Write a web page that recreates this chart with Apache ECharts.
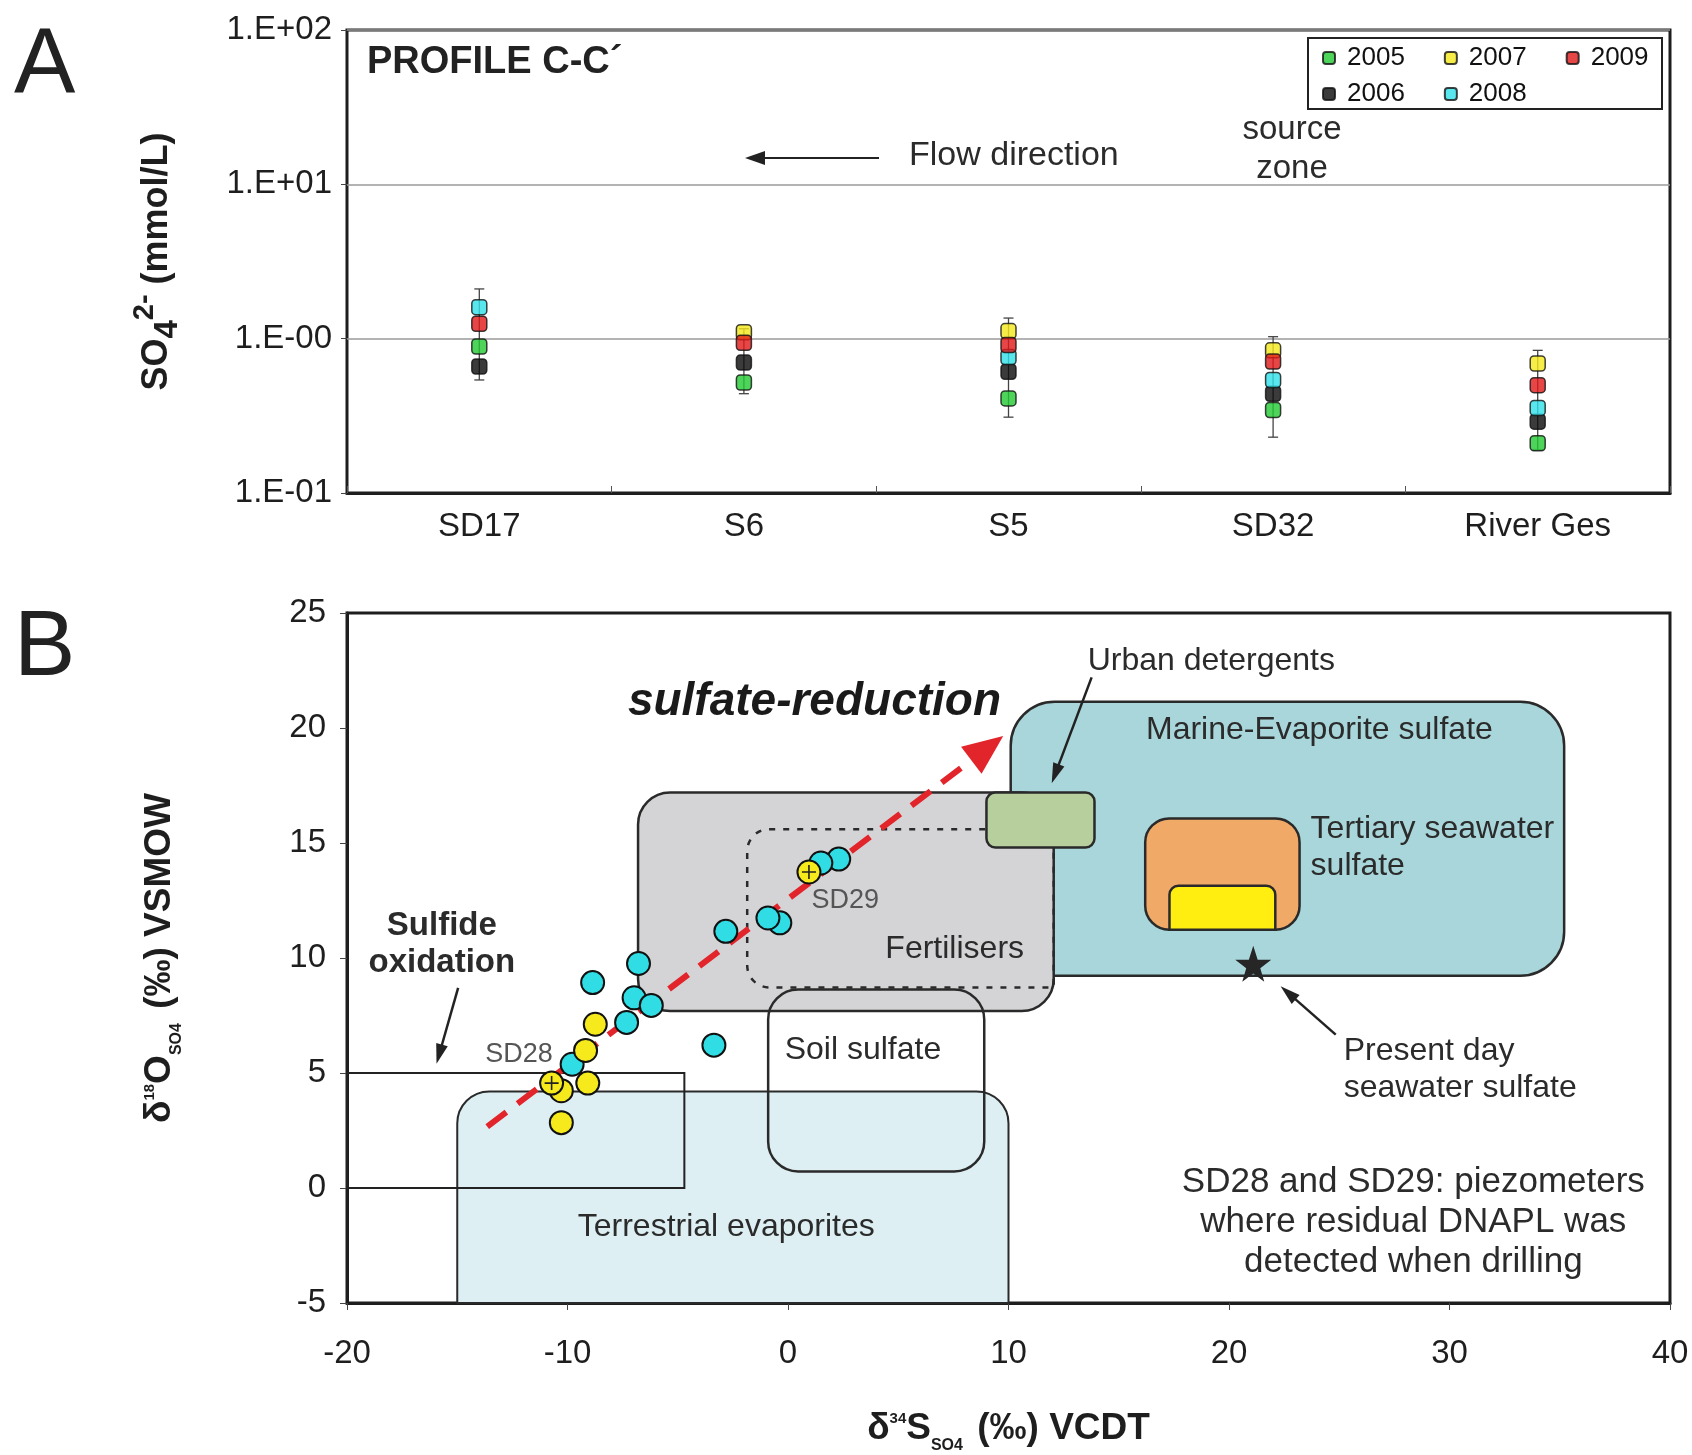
<!DOCTYPE html>
<html>
<head>
<meta charset="utf-8">
<script src="https://cdn.jsdelivr.net/npm/echarts@6/dist/echarts.min.js"></script>
<style>
html,body{margin:0;padding:0;background:#fff}
#chart{width:1692px;height:1455px}
</style>
</head>
<body>
<div id="chart"></div>
<script>
// ---------- Panel A: SO4 concentration along profile C-C' ----------
const stations = ['SD17', 'S6', 'S5', 'SD32', 'River Ges'];
const so4_2005 = [0.89, 0.52, 0.41, 0.345, 0.21];
const so4_2006 = [0.66, 0.70, 0.61, 0.44, 0.29];
const so4_2007 = [null, 1.10, 1.12, 0.84, 0.69];
const so4_2008 = [1.60, null, 0.76, 0.54, 0.356];
const so4_2009 = [1.25, 0.94, 0.91, 0.71, 0.50];
const so4Low  = [0.54, 0.44, 0.31, 0.23, 0.19];
const so4High = [2.10, 1.16, 1.36, 1.03, 0.84];
const logTickLabels = ['1.E-01', '1.E-00', '1.E+01', '1.E+02'];

// ---------- Panel B: d34S vs d18O of dissolved sulfate ----------
const cyanS34 = [2.30, 1.49, -0.37, -0.91, -2.82, -6.78, -8.86, -6.98, -6.20, -7.32, -3.36, -9.79];
const cyanO18 = [14.30, 14.13, 11.53, 11.74, 11.16, 9.76, 8.93, 8.27, 7.94, 7.20, 6.21, 5.38];
const yellowS34 = [-8.74, -9.18, -9.08, -10.28, -10.28];
const yellowO18 = [7.12, 5.98, 4.56, 4.23, 2.84];
const piezoNames = ['SD28', 'SD29'];
const piezoS34 = [-10.72, 0.95];
const piezoO18 = [4.56, 13.74];
const seawaterS34 = [21.1];
const seawaterO18 = [9.75];

// source fields: [min, max] of d34S and d18O
const regionNames = ['Marine-Evaporite sulfate', 'Terrestrial evaporites', 'Fertilisers',
  'Fertilisers (subset)', 'Urban detergents', 'Sulfide oxidation', 'Soil sulfate',
  'Tertiary seawater sulfate', 'Tertiary seawater sulfate (core)'];
const regionS34 = [[10.1, 35.2], [-15, 10], [-6.8, 12.05], [-1.85, 12.05], [9.0, 13.9],
  [-20, -4.7], [-0.9, 8.9], [16.2, 23.2], [17.3, 22.1]];
const regionO18 = [[9.23, 21.14], [-5, 4.2], [7.7, 17.2], [8.72, 15.6], [14.8, 17.2],
  [0, 5], [0.72, 8.63], [11.23, 16.07], [11.23, 13.14]];

const F = '"Liberation Sans", Arial, Helvetica, sans-serif';
const INK = '#1e1e1e';

const regionStyle = {
  'Marine-Evaporite sulfate': {fill: '#a8d6da', stroke: '#2a2a2a', lw: 2.5, r: 44},
  'Terrestrial evaporites': {fill: '#ddeff3', stroke: '#2a2a2a', lw: 2, r: [32, 32, 0, 0]},
  'Fertilisers': {fill: '#d4d4d6', stroke: '#2a2a2a', lw: 2.5, r: 32},
  'Fertilisers (subset)': {fill: 'none', stroke: '#2a2a2a', lw: 2.5, r: [22, 0, 0, 22], dash: [6, 8]},
  'Urban detergents': {fill: '#b6cf9d', stroke: '#2a2a2a', lw: 2.5, r: 9},
  'Sulfide oxidation': {fill: 'none', stroke: '#222', lw: 2, r: 0},
  'Soil sulfate': {fill: 'none', stroke: '#2a2a2a', lw: 2.5, r: 30},
  'Tertiary seawater sulfate': {fill: '#f1a967', stroke: '#2a2a2a', lw: 2.5, r: 24},
  'Tertiary seawater sulfate (core)': {fill: '#ffee10', stroke: '#2a2a2a', lw: 2.5, r: [9, 9, 0, 0]}
};

// annotation layout (data units of panel B)
const notes = [
  {text: 'Urban detergents', s: 19.2, o: 22.9, align: 'center'},
  {text: 'Marine-Evaporite sulfate', s: 24.1, o: 19.9, align: 'center'},
  {text: 'Tertiary seawater\nsulfate', s: 23.7, o: 14.8, align: 'left'},
  {text: 'Fertilisers', s: 7.56, o: 10.4, align: 'center'},
  {text: 'Soil sulfate', s: 3.4, o: 6.0, align: 'center'},
  {text: 'Terrestrial evaporites', s: -2.8, o: -1.7, align: 'center'},
  {text: 'Sulfide\noxidation', s: -15.7, o: 10.6, align: 'center', weight: 'bold', size: 33},
  {text: 'sulfate-reduction', s: 1.2, o: 21.1, align: 'center', weight: 'bold', style: 'italic', size: 46, color: '#1a1a1a'},
  {text: 'Present day\nseawater sulfate', s: 25.2, o: 5.14, align: 'left'},
  {text: 'SD28 and SD29: piezometers\nwhere residual DNAPL was\ndetected when drilling', s: 28.36, o: -1.51, align: 'center', lh: 40, size: 35},
  {text: 'SD28', s: -12.2, o: 5.8, align: 'center', size: 27, color: '#555'},
  {text: 'SD29', s: 2.6, o: 12.5, align: 'center', size: 27, color: '#555'}
];

const pointers = [
  {from: [13.77, 22.2], to: [11.96, 17.6], color: '#222', width: 2.5, head: 20, headW: 6},
  {from: [-14.96, 8.7], to: [-15.94, 5.4], color: '#222', width: 2.5, head: 20, headW: 6},
  {from: [24.84, 6.67], to: [22.34, 8.77], color: '#222', width: 2.5, head: 20, headW: 6},
  {from: [-13.64, 2.67], to: [9.76, 19.65], color: '#e2242b', width: 6, head: 40, headW: 17, dash: [24, 14], gap: 8}
];

const yearColors = {'2005': '#22c832', '2006': '#0a0a0a', '2007': '#f4e81a', '2008': '#2fe0e8', '2009': '#e01818'};

function yearSeries(name, values, z) {
  return {
    name: name, type: 'scatter', xAxisIndex: 0, yAxisIndex: 0,
    symbol: 'roundRect', symbolSize: 15, z: z,
    itemStyle: {color: yearColors[name], borderColor: '#111', borderWidth: 1.5},
    data: values.map((v, i) => v == null ? [i, '-'] : [i, v])
  };
}

function errorBar(params, api) {
  const top = api.coord([api.value(0), api.value(2)]);
  const bot = api.coord([api.value(0), api.value(1)]);
  const c = 5;
  const st = {stroke: '#444', lineWidth: 1.3};
  return {type: 'group', children: [
    {type: 'line', shape: {x1: top[0], y1: top[1], x2: bot[0], y2: bot[1]}, style: st},
    {type: 'line', shape: {x1: top[0] - c, y1: top[1], x2: top[0] + c, y2: top[1]}, style: st},
    {type: 'line', shape: {x1: bot[0] - c, y1: bot[1], x2: bot[0] + c, y2: bot[1]}, style: st}
  ]};
}

function regionItem(params, api) {
  const p0 = api.coord([api.value(0), api.value(3)]);
  const p1 = api.coord([api.value(2), api.value(1)]);
  const st = regionStyle[regionNames[api.value(4)]];
  return {
    type: 'rect',
    shape: {x: p0[0], y: p0[1], width: p1[0] - p0[0], height: p1[1] - p0[1], r: st.r},
    style: {fill: st.fill, stroke: st.stroke, lineWidth: st.lw, lineDash: st.dash || null}
  };
}

function pointerItem(params, api) {
  const p = pointers[api.value(4)];
  const a = api.coord([api.value(0), api.value(1)]);
  const b = api.coord([api.value(2), api.value(3)]);
  const dx = b[0] - a[0], dy = b[1] - a[1], len = Math.hypot(dx, dy);
  const ux = dx / len, uy = dy / len, px = -uy, py = ux;
  const bx = b[0] - ux * p.head, by = b[1] - uy * p.head;
  const g = p.gap || -2;
  return {type: 'group', children: [
    {type: 'line', shape: {x1: a[0], y1: a[1], x2: bx - ux * g, y2: by - uy * g},
     style: {stroke: p.color, lineWidth: p.width, lineDash: p.dash || null}},
    {type: 'polygon', shape: {points: [[b[0], b[1]], [bx + px * p.headW, by + py * p.headW], [bx - px * p.headW, by - py * p.headW]]},
     style: {fill: p.color}}
  ]};
}

function noteItem(params, api) {
  const n = notes[api.value(2)];
  const p = api.coord([api.value(0), api.value(1)]);
  return {
    type: 'text', x: p[0], y: p[1],
    style: {
      text: n.text, fill: n.color || '#2b2b2b', fontFamily: F,
      fontSize: n.size || 32, fontWeight: n.weight || 'normal', fontStyle: n.style || 'normal',
      align: n.align, verticalAlign: 'middle', lineHeight: n.lh || 37
    }
  };
}

const axisTickLabel = {fontFamily: F, fontSize: 33, color: INK};
const legendText = {fontFamily: F, fontSize: 26, color: '#111', padding: [0, 0, 0, 7]};

const isoTitleRich = {
  m: {fontFamily: F, fontSize: 37, fontWeight: 'bold', color: INK, lineHeight: 50, verticalAlign: 'middle'},
  sup: {fontFamily: F, fontSize: 15, fontWeight: 'bold', color: INK, lineHeight: 50, verticalAlign: 'top', padding: [7, 0, 0, 0]},
  sub: {fontFamily: F, fontSize: 16, fontWeight: 'bold', color: INK, lineHeight: 50, verticalAlign: 'bottom', padding: [0, 4, 0, 0]}
};

const chart = echarts.init(document.getElementById('chart'), null, {renderer: 'canvas'});

const option = {
  backgroundColor: '#ffffff',
  animation: false,
  textStyle: {fontFamily: F},
  grid: [
    {left: 347, top: 30, width: 1323, height: 463, show: true, borderColor: INK, borderWidth: 3},
    {left: 347, top: 613, width: 1323, height: 696, show: true, borderColor: INK, borderWidth: 3}
  ],
  legend: [
    {data: ['2005', '2007', '2009'], left: 1322, top: 45, orient: 'horizontal', padding: 0,
     itemWidth: 12, itemHeight: 12, itemGap: 39, textStyle: legendText},
    {data: ['2006', '2008'], left: 1322, top: 81, orient: 'horizontal', padding: 0,
     itemWidth: 12, itemHeight: 12, itemGap: 39, textStyle: legendText}
  ],
  xAxis: [
    {type: 'category', gridIndex: 0, data: stations, boundaryGap: true,
     axisLine: {lineStyle: {color: INK, width: 3}},
     axisTick: {show: true, inside: true, length: 7, lineStyle: {color: '#555'}},
     axisLabel: Object.assign({margin: 17}, axisTickLabel)},
    {type: 'value', gridIndex: 1, min: -20, max: 40, interval: 10,
     axisLine: {onZero: false, lineStyle: {color: INK, width: 3}},
     axisTick: {show: true, length: 7, lineStyle: {color: '#444'}},
     splitLine: {show: false},
     axisLabel: Object.assign({margin: 34}, axisTickLabel),
     name: '{m|δ}{sup|34}{m|S}{sub|SO4}{m| (‰) VCDT}', nameLocation: 'middle', nameGap: 101,
     nameTextStyle: {rich: isoTitleRich}}
  ],
  yAxis: [
    {type: 'log', gridIndex: 0, logBase: 10, min: 0.1, max: 100,
     axisLine: {lineStyle: {color: INK, width: 3}},
     axisTick: {show: true, length: 6, lineStyle: {color: '#444'}},
     minorTick: {show: false},
     splitLine: {show: true, lineStyle: {color: '#9a9a9a', width: 1.5}},
     axisLabel: Object.assign({margin: 15, formatter: v => logTickLabels[Math.round(Math.log10(v)) + 1]}, axisTickLabel),
     name: '{b|SO}{sub|4}{sup|2-}{b| (mmol/L)}', nameLocation: 'middle', nameGap: 163,
     nameTextStyle: {rich: {
       b: {fontFamily: F, fontSize: 36, fontWeight: 'bold', color: INK, lineHeight: 54, verticalAlign: 'middle'},
       sub: {fontFamily: F, fontSize: 33, fontWeight: 'bold', color: INK, lineHeight: 54, verticalAlign: 'bottom'},
       sup: {fontFamily: F, fontSize: 29, fontWeight: 'bold', color: INK, lineHeight: 54, verticalAlign: 'top'}
     }}},
    {type: 'value', gridIndex: 1, min: -5, max: 25, interval: 5,
     axisLine: {onZero: false, lineStyle: {color: INK, width: 3}},
     axisTick: {show: true, length: 7, lineStyle: {color: '#444'}},
     splitLine: {show: false},
     axisLabel: Object.assign({margin: 21}, axisTickLabel),
     name: '{m|δ}{sup|18}{m|O}{sub|SO4}{m| (‰) VSMOW}', nameLocation: 'middle', nameGap: 162,
     nameTextStyle: {rich: isoTitleRich}}
  ],
  graphic: [
    {type: 'text', left: 14, top: 22, style: {text: 'A', fontFamily: F, fontSize: 92, fill: '#222'}},
    {type: 'text', left: 14, top: 604, style: {text: 'B', fontFamily: F, fontSize: 92, fill: '#222'}},
    {type: 'text', x: 367, y: 63, style: {text: 'PROFILE C-C´', fontFamily: F, fontSize: 38, fontWeight: 'bold', fill: '#222', verticalAlign: 'middle'}},
    {type: 'text', x: 909, y: 156, style: {text: 'Flow direction', fontFamily: F, fontSize: 34, fill: '#2b2b2b', verticalAlign: 'middle'}},
    {type: 'text', x: 1292, y: 149, style: {text: 'source\nzone', fontFamily: F, fontSize: 33, fill: '#2b2b2b', align: 'center', verticalAlign: 'middle', lineHeight: 39}},
    {type: 'line', shape: {x1: 879, y1: 158, x2: 760, y2: 158}, style: {stroke: '#222', lineWidth: 2}},
    {type: 'polygon', shape: {points: [[745, 158], [765, 151], [765, 165]]}, style: {fill: '#222'}},
    {type: 'rect', shape: {x: 1308, y: 38, width: 354, height: 71}, style: {fill: 'none', stroke: '#222', lineWidth: 2}}
  ],
  series: [
    {type: 'custom', name: 'range', xAxisIndex: 0, yAxisIndex: 0, z: 1, silent: true,
     renderItem: errorBar, encode: {x: 0, y: [1, 2]},
     data: stations.map((s, i) => [i, so4Low[i], so4High[i]])},
    yearSeries('2007', so4_2007, 2),
    yearSeries('2005', so4_2005, 3),
    yearSeries('2006', so4_2006, 3),
    yearSeries('2008', so4_2008, 4),
    yearSeries('2009', so4_2009, 5),

    {type: 'custom', name: 'fields', xAxisIndex: 1, yAxisIndex: 1, z: 1, silent: true,
     renderItem: regionItem, encode: {x: [0, 2], y: [1, 3]},
     data: regionNames.map((n, i) => [regionS34[i][0], regionO18[i][0], regionS34[i][1], regionO18[i][1], i])},
    {type: 'custom', name: 'pointers', xAxisIndex: 1, yAxisIndex: 1, z: 3, silent: true,
     renderItem: pointerItem, encode: {x: [0, 2], y: [1, 3]},
     data: pointers.map((p, i) => [p.from[0], p.from[1], p.to[0], p.to[1], i])},
    {type: 'scatter', name: 'cyan', xAxisIndex: 1, yAxisIndex: 1, z: 4,
     symbol: 'circle', symbolSize: 23,
     itemStyle: {color: '#30dde4', borderColor: '#111', borderWidth: 2, opacity: 1},
     data: cyanS34.map((s, i) => [s, cyanO18[i]])},
    {type: 'scatter', name: 'yellow', xAxisIndex: 1, yAxisIndex: 1, z: 5,
     symbol: 'circle', symbolSize: 23,
     itemStyle: {color: '#f6ea1c', borderColor: '#111', borderWidth: 2, opacity: 1},
     data: yellowS34.map((s, i) => [s, yellowO18[i]])},
    {type: 'scatter', name: 'piezometers', xAxisIndex: 1, yAxisIndex: 1, z: 6,
     symbol: 'circle', symbolSize: 23,
     itemStyle: {color: '#f6ea1c', borderColor: '#111', borderWidth: 2, opacity: 1},
     data: piezoS34.map((s, i) => ({name: piezoNames[i], value: [s, piezoO18[i]]}))},
    {type: 'scatter', name: 'piezometer cross', xAxisIndex: 1, yAxisIndex: 1, z: 7,
     symbol: 'path://M0,10L20,10M10,0L10,20', symbolSize: 14,
     itemStyle: {color: 'transparent', borderColor: '#222', borderWidth: 1.6, opacity: 1},
     data: piezoS34.map((s, i) => [s, piezoO18[i]])},
    {type: 'scatter', name: 'Present day seawater sulfate', xAxisIndex: 1, yAxisIndex: 1, z: 6,
     symbol: 'path://M50,0L61.8,35.1L98.1,35.1L68.8,56.8L79.4,91L50,70L20.6,91L31.2,56.8L1.9,35.1L38.2,35.1Z',
     symbolSize: 36, itemStyle: {color: '#262626', opacity: 1},
     data: seawaterS34.map((s, i) => [s, seawaterO18[i]])},
    {type: 'custom', name: 'notes', xAxisIndex: 1, yAxisIndex: 1, z: 8, silent: true,
     renderItem: noteItem, encode: {x: 0, y: 1},
     data: notes.map((n, i) => [n.s, n.o, i])}
  ]
};

chart.setOption(option);
</script>
</body>
</html>
